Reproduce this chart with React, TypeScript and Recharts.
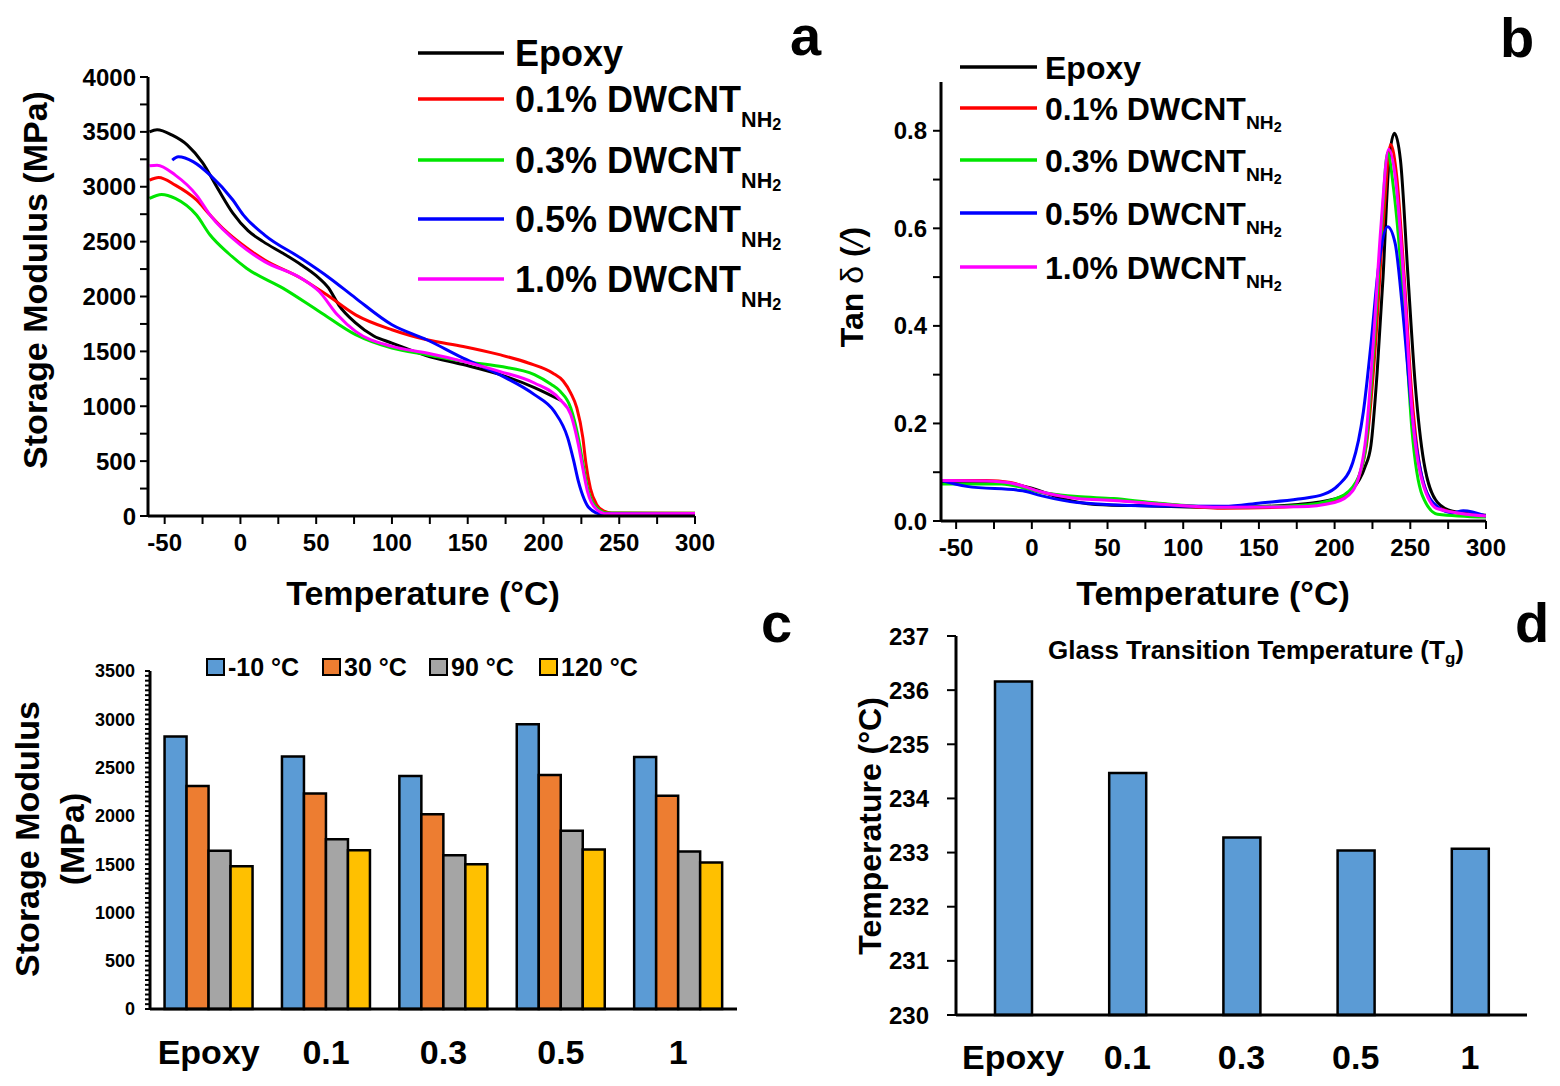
import React from "react";
import { LineChart, Line, XAxis, YAxis, BarChart, Bar } from "recharts";

const FONT = "'Liberation Sans', Arial, Helvetica, sans-serif";

// ---- panel a: storage modulus vs temperature ([°C, MPa])
const epoxyModulus = [
  [-60, 3500], [-55, 3520], [-45, 3470], [-35, 3380], [-25, 3220], [-15, 2985],
  [-5, 2760], [5, 2600], [15, 2500], [28, 2394], [40, 2290], [50, 2190],
  [58, 2080], [65, 1920], [76, 1760], [88, 1640], [100, 1576], [123, 1460],
  [147, 1380], [171, 1290], [194, 1170], [212, 1050],
];
const dw01Modulus = [
  [-60, 3060], [-54, 3085], [-43, 3015], [-29, 2880], [-20, 2742], [-10, 2600],
  [0, 2485], [16, 2333], [40, 2167], [57, 2015], [76, 1833], [100, 1697],
  [123, 1606], [147, 1545], [171, 1470], [190, 1394], [206, 1303], [213, 1230],
  [218, 1120], [222, 985], [226, 712], [228, 480], [231, 250], [235, 106],
  [240, 45], [245, 28], [300, 25],
];
const dw03Modulus = [
  [-60, 2894], [-52, 2930], [-43, 2894], [-29, 2742], [-20, 2560], [-8, 2394],
  [4, 2258], [28, 2076], [52, 1864], [76, 1652], [100, 1530], [123, 1470],
  [147, 1409], [171, 1364], [194, 1288], [205, 1200], [211, 1136], [218, 985],
  [223, 712], [226, 480], [229, 258], [235, 76], [242, 28], [300, 25],
];
const dw05Modulus = [
  [-45, 3242], [-41, 3273], [-31, 3227], [-20, 3106], [-5, 2879], [2, 2742],
  [16, 2560], [40, 2348], [59, 2167], [76, 1985], [100, 1742], [123, 1606],
  [147, 1439], [171, 1288], [194, 1106], [207, 955], [216, 712], [220, 500],
  [223, 318], [227, 150], [230, 76], [238, 20], [300, 18],
];
const dw10Modulus = [
  [-60, 3191], [-55, 3197], [-43, 3106], [-29, 2924], [-20, 2742], [0, 2470],
  [16, 2318], [40, 2167], [52, 2045], [64, 1833], [76, 1682], [100, 1545],
  [123, 1485], [147, 1409], [171, 1318], [194, 1212], [211, 1060], [218, 924],
  [223, 652], [226, 430], [229, 227], [235, 61], [242, 20], [300, 22],
];

// ---- panel b: tan delta vs temperature
const epoxyTan = [
  [-60, 0.079], [-18, 0.078], [1, 0.066], [18, 0.048], [42, 0.034], [79, 0.031],
  [127, 0.028], [176, 0.034], [200, 0.045], [212, 0.066], [220, 0.11], [224, 0.155],
  [228, 0.3], [232, 0.5], [236, 0.74], [239.5, 0.795], [243.5, 0.74], [248.5, 0.5],
  [253, 0.29], [259, 0.12], [268, 0.038], [278, 0.02], [300, 0.012],
];
const dw01Tan = [
  [-60, 0.083], [-30, 0.083], [-14, 0.079], [6, 0.059], [30, 0.048], [54, 0.043],
  [79, 0.037], [127, 0.026], [176, 0.03], [200, 0.041], [212, 0.066], [217, 0.1],
  [221, 0.155], [227, 0.362], [232, 0.603], [237, 0.772], [241, 0.707], [246, 0.5],
  [251, 0.259], [258, 0.086], [268, 0.028], [285, 0.014], [300, 0.01],
];
const dw03Tan = [
  [-60, 0.076], [-20, 0.076], [6, 0.059], [30, 0.05], [54, 0.046], [79, 0.038],
  [127, 0.028], [176, 0.032], [200, 0.045], [212, 0.07], [220, 0.14], [226, 0.36],
  [231, 0.6], [235, 0.755], [239, 0.68], [246, 0.43], [251, 0.19], [258, 0.052],
  [268, 0.014], [300, 0.008],
];
const dw05Tan = [
  [-60, 0.083], [-43, 0.071], [-6, 0.062], [6, 0.052], [30, 0.038], [79, 0.031],
  [127, 0.03], [151, 0.037], [176, 0.045], [193, 0.055], [202, 0.072], [212, 0.12],
  [219, 0.224], [224, 0.362], [229, 0.52], [235, 0.603], [240, 0.569], [245, 0.43],
  [251, 0.224], [258, 0.086], [265, 0.038], [278, 0.017], [285, 0.021], [300, 0.01],
];
const dw10Tan = [
  [-60, 0.083], [-30, 0.082], [-14, 0.078], [6, 0.06], [30, 0.046], [54, 0.042],
  [79, 0.036], [127, 0.028], [176, 0.029], [200, 0.038], [212, 0.062], [220, 0.155],
  [225.5, 0.362], [230.5, 0.6], [235.7, 0.762], [240, 0.707], [246, 0.48], [251, 0.23],
  [258, 0.08], [268, 0.025], [300, 0.01],
];

// ---- panel c: storage modulus at fixed temperatures
const samples = ["Epoxy", "0.1", "0.3", "0.5", "1"];
const modAtM10 = [2821, 2614, 2414, 2948, 2610];
const modAt30 = [2310, 2231, 2017, 2424, 2207];
const modAt90 = [1638, 1759, 1593, 1845, 1631];
const modAt120 = [1479, 1645, 1500, 1652, 1517];
const barLabels = ["-10 °C", "30 °C", "90 °C", "120 °C"];

// ---- panel d: Tg
const tgValues = [236.16, 234.47, 233.28, 233.04, 233.07];

const legendLabels = ["Epoxy", "0.1% DWCNT", "0.3% DWCNT", "0.5% DWCNT", "1.0% DWCNT"];
const tempTicks = [-50, -25, 0, 25, 50, 75, 100, 125, 150, 175, 200, 225, 250, 275, 300];
const modTicks = [0, 250, 500, 750, 1000, 1250, 1500, 1750, 2000, 2250, 2500, 2750, 3000, 3250, 3500, 3750, 4000];
const tanTicks = [0, 0.1, 0.2, 0.3, 0.4, 0.5, 0.6, 0.7, 0.8];
const tgTicks = [230, 231, 232, 233, 234, 235, 236, 237];

const lineColors = ["#000000", "#ff0000", "#00e600", "#0000ff", "#ff00ff"];
const barColors = ["#5b9bd5", "#ed7d31", "#a5a5a5", "#ffc000"];

const toPts = (rows: number[][]) => rows.map(([t, v]) => ({ t, v }));
const modulusSeries = [epoxyModulus, dw01Modulus, dw03Modulus, dw05Modulus, dw10Modulus].map(toPts);
const tanSeries = [epoxyTan, dw01Tan, dw03Tan, dw05Tan, dw10Tan].map(toPts);

const barData = samples.map((name, i) => ({
  name,
  m10: modAtM10[i],
  m30: modAt30[i],
  m90: modAt90[i],
  m120: modAt120[i],
}));
const barKeys = ["m10", "m30", "m90", "m120"];
const tgData = samples.map((name, i) => ({ name, tg: tgValues[i] }));

// minor ticks every 50 MPa for panel c
const barAllTicks = Array.from({ length: 71 }, (_, i) => i * 50);

const axisStroke = { stroke: "#000", strokeWidth: 3 };
const tickStroke = { stroke: "#000", strokeWidth: 2 };
const tickFont = (size: number) => ({ fontSize: size, fontWeight: 700, fill: "#000", fontFamily: FONT });

const fmtTemp = (v: number) => (v % 50 === 0 ? String(v) : "");
const fmtMod = (v: number) => (v % 500 === 0 ? String(v) : "");
const fmtTan = (v: number) => (Math.round(v * 10) % 2 === 0 ? v.toFixed(1) : "");
const fmtBarY = (v: number) => (v % 500 === 0 ? String(v) : "");

function PanelA() {
  return (
    <div style={{ position: "absolute", left: 0, top: 0 }}>
      <LineChart width={720} height={620} margin={{ top: 77, right: 25, bottom: 64, left: 88 }}>
        <XAxis
          type="number"
          dataKey="t"
          domain={[-61, 300]}
          ticks={tempTicks}
          interval={0}
          allowDataOverflow
          tickFormatter={fmtTemp}
          height={40}
          axisLine={axisStroke}
          tickLine={tickStroke}
          tickSize={8}
          tickMargin={10}
          tick={tickFont(24)}
        />
        <YAxis
          type="number"
          dataKey="v"
          domain={[0, 4000]}
          ticks={modTicks}
          interval={0}
          tickFormatter={fmtMod}
          width={60}
          axisLine={axisStroke}
          tickLine={tickStroke}
          tickSize={8}
          tickMargin={4}
          tick={tickFont(24)}
        />
        {modulusSeries.map((d, i) => (
          <Line
            key={i}
            data={d}
            dataKey="v"
            type="monotone"
            stroke={lineColors[i]}
            strokeWidth={3}
            dot={false}
            isAnimationActive={false}
          />
        ))}
      </LineChart>
    </div>
  );
}

function PanelB() {
  return (
    <div style={{ position: "absolute", left: 780, top: 0 }}>
      <LineChart width={740} height={620} margin={{ top: 82, right: 34, bottom: 59, left: 101 }}>
        <XAxis
          type="number"
          dataKey="t"
          domain={[-60, 300]}
          ticks={tempTicks}
          interval={0}
          allowDataOverflow
          tickFormatter={fmtTemp}
          height={40}
          axisLine={axisStroke}
          tickLine={tickStroke}
          tickSize={8}
          tickMargin={10}
          tick={tickFont(24)}
        />
        <YAxis
          type="number"
          dataKey="v"
          domain={[0, 0.9]}
          ticks={tanTicks}
          interval={0}
          tickFormatter={fmtTan}
          width={60}
          axisLine={axisStroke}
          tickLine={tickStroke}
          tickSize={8}
          tickMargin={6}
          tick={tickFont(24)}
        />
        {tanSeries.map((d, i) => (
          <Line
            key={i}
            data={d}
            dataKey="v"
            type="monotone"
            stroke={lineColors[i]}
            strokeWidth={3}
            dot={false}
            isAnimationActive={false}
          />
        ))}
      </LineChart>
    </div>
  );
}

function PanelC() {
  return (
    <div style={{ position: "absolute", left: 0, top: 600 }}>
      <BarChart
        width={760}
        height={486}
        data={barData}
        margin={{ top: 71, right: 23, bottom: 17, left: 90 }}
        barCategoryGap="12.4%"
        barGap={0}
      >
        <XAxis
          dataKey="name"
          height={60}
          axisLine={axisStroke}
          tickLine={false}
          tickSize={0}
          tickMargin={31}
          tick={tickFont(34)}
        />
        <YAxis
          type="number"
          domain={[0, 3500]}
          ticks={barAllTicks}
          interval={0}
          tickFormatter={fmtBarY}
          width={60}
          axisLine={axisStroke}
          tickLine={tickStroke}
          tickSize={5}
          tickMargin={10}
          tick={tickFont(18)}
        />
        {barKeys.map((k, i) => (
          <Bar
            key={k}
            dataKey={k}
            fill={barColors[i]}
            stroke="#000"
            strokeWidth={2.5}
            isAnimationActive={false}
          />
        ))}
      </BarChart>
    </div>
  );
}

function PanelD() {
  return (
    <div style={{ position: "absolute", left: 800, top: 600 }}>
      <BarChart
        width={760}
        height={486}
        data={tgData}
        margin={{ top: 36, right: 33, bottom: 11, left: 96 }}
      >
        <XAxis
          dataKey="name"
          height={60}
          axisLine={axisStroke}
          tickLine={false}
          tickSize={0}
          tickMargin={30}
          tick={tickFont(34)}
        />
        <YAxis
          type="number"
          domain={[230, 237]}
          ticks={tgTicks}
          interval={0}
          width={60}
          axisLine={axisStroke}
          tickLine={tickStroke}
          tickSize={9}
          tickMargin={18}
          tick={tickFont(24)}
        />
        <Bar dataKey="tg" barSize={37} fill="#5b9bd5" stroke="#000" strokeWidth={2.5} isAnimationActive={false} />
      </BarChart>
    </div>
  );
}

function LegendBlock({
  x0, x1, tx, rows, size, subDy,
}: { x0: number; x1: number; tx: number; rows: number[]; size: number; subDy: number }) {
  return (
    <g>
      {legendLabels.map((label, i) => (
        <g key={label}>
          <line x1={x0} x2={x1} y1={rows[i]} y2={rows[i]} stroke={lineColors[i]} strokeWidth={3.5} />
          <text x={tx} y={rows[i] + size * 0.36} fontSize={size} fontWeight={700} fontFamily={FONT} fill="#000">
            {label}
            {i > 0 && (
              <>
                <tspan fontSize={size * 0.6} dy={subDy}>NH</tspan>
                <tspan fontSize={size * 0.45} dy={3}>2</tspan>
              </>
            )}
          </text>
        </g>
      ))}
    </g>
  );
}

function Overlay() {
  const t = { fontFamily: FONT, fontWeight: 700, fill: "#000" } as const;
  return (
    <svg
      width={1560}
      height={1086}
      style={{ position: "absolute", left: 0, top: 0, pointerEvents: "none" }}
    >
      {/* panel letters */}
      <text x={790} y={55} fontSize={56} {...t}>a</text>
      <text x={1500} y={57} fontSize={56} {...t}>b</text>
      <text x={761} y={642} fontSize={56} {...t}>c</text>
      <text x={1515} y={642} fontSize={56} {...t}>d</text>

      {/* legends */}
      <LegendBlock x0={418} x1={504} tx={515} rows={[53, 99, 160, 219, 279]} size={36} subDy={15} />
      <LegendBlock x0={960} x1={1037} tx={1045} rows={[67, 108, 160, 213, 267]} size={32} subDy={9} />

      {/* panel a titles */}
      <text transform="translate(35,280) rotate(-90)" textAnchor="middle" dominantBaseline="central" fontSize={34} {...t}>
        Storage Modulus (MPa)
      </text>
      <text x={423} y={605} textAnchor="middle" fontSize={34} {...t}>Temperature (°C)</text>

      {/* panel b titles */}
      <text transform="translate(852,287) rotate(-90)" textAnchor="middle" dominantBaseline="central" fontSize={32} {...t}>
        Tan <tspan fontWeight={400}>δ</tspan> (<tspan fontStyle="italic" fontWeight={400}>/</tspan>)
      </text>
      <text x={1213} y={605} textAnchor="middle" fontSize={34} {...t}>Temperature (°C)</text>

      {/* panel c titles and legend */}
      <text transform="translate(27,839) rotate(-90)" textAnchor="middle" dominantBaseline="central" fontSize={34} {...t}>
        Storage Modulus
      </text>
      <text transform="translate(72,839) rotate(-90)" textAnchor="middle" dominantBaseline="central" fontSize={34} {...t}>
        (MPa)
      </text>
      {barLabels.map((lab, i) => {
        const x = [207, 323, 430, 540][i];
        return (
          <g key={lab}>
            <rect x={x} y={659} width={17} height={16} fill={barColors[i]} stroke="#000" strokeWidth={2} />
            <text x={x + 21} y={676} fontSize={25} {...t}>{lab}</text>
          </g>
        );
      })}

      {/* panel d titles */}
      <text transform="translate(870,826) rotate(-90)" textAnchor="middle" dominantBaseline="central" fontSize={32} {...t}>
        Temperature (°C)
      </text>
      <text x={1256} y={659} textAnchor="middle" fontSize={26} {...t}>
        Glass Transition Temperature (T<tspan fontSize={17} dy={5}>g</tspan><tspan dy={-5}>)</tspan>
      </text>
    </svg>
  );
}

export default function App() {
  return (
    <div
      style={{
        position: "absolute",
        left: 0,
        top: 0,
        width: 1560,
        height: 1086,
        background: "#fff",
        fontFamily: FONT,
      }}
    >
      <PanelA />
      <PanelB />
      <PanelC />
      <PanelD />
      <Overlay />
    </div>
  );
}
